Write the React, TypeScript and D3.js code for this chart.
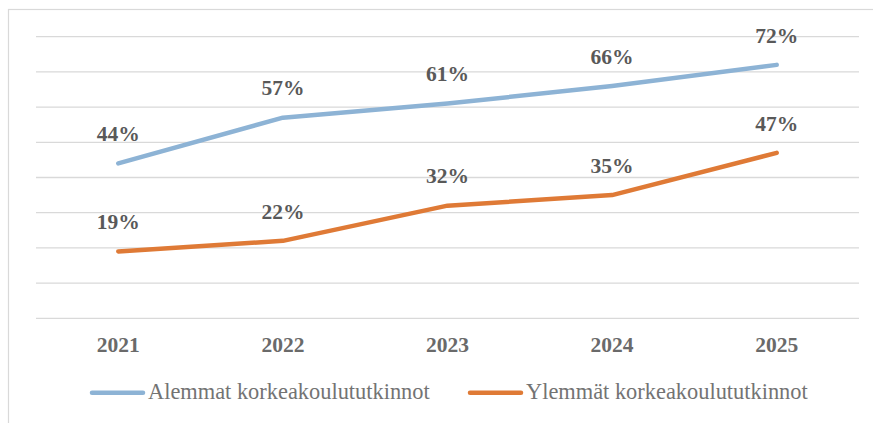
import React from "react";
import * as d3 from "d3";

const years = ["2021", "2022", "2023", "2024", "2025"];
const lowerDegrees = [44, 57, 61, 66, 72];
const higherDegrees = [19, 22, 32, 35, 47];
const seriesNames = ["Alemmat korkeakoulututkinnot", "Ylemmät korkeakoulututkinnot"];
const seriesColors = ["#8DB3D5", "#DF7A36"];
const yTicks = [0, 10, 20, 30, 40, 50, 60, 70, 80];

const W = 873;
const H = 423;
const FONT = "Liberation Serif, Tinos, Times New Roman, DejaVu Serif, serif";

export default function App() {
  const x = d3.scaleBand<string>().domain(years).range([36, 859]).padding(0);
  const y = d3.scaleLinear().domain([0, 80]).range([318.3, 36.7]);
  const cx = (d: string) => (x(d) as number) + x.bandwidth() / 2;
  const line = d3
    .line<number>()
    .x((_, i) => cx(years[i]))
    .y((v) => y(v));
  const series = [lowerDegrees, higherDegrees];
  const legendX = [92, 470];

  return (
    <svg
      width={W}
      height={H}
      style={{ position: "absolute", left: 0, top: 0, background: "#fff", fontFamily: FONT }}
    >
      <rect x={8.5} y={9.5} width={W + 20} height={H + 20} fill="#fff" stroke="#D9D9D9" strokeWidth={1.2} />
      {yTicks.map((t) => (
        <line key={t} x1={36} x2={859} y1={y(t)} y2={y(t)} stroke="#D9D9D9" strokeWidth={1.3} />
      ))}
      {series.map((vals, si) => (
        <path
          key={si}
          d={line(vals) || ""}
          fill="none"
          stroke={seriesColors[si]}
          strokeWidth={4.5}
          strokeLinecap="round"
          strokeLinejoin="round"
        />
      ))}
      {series.map((vals, si) =>
        vals.map((v, i) => (
          <text
            key={`${si}-${i}`}
            x={cx(years[i])}
            y={y(v) - 22.3}
            textAnchor="middle"
            style={{ fontFamily: FONT, fontWeight: "bold", fontSize: 21.5 }}
            fill="#595959"
          >
            {v}%
          </text>
        ))
      )}
      {years.map((yr) => (
        <text
          key={yr}
          x={cx(yr)}
          y={352.3}
          textAnchor="middle"
          style={{ fontFamily: FONT, fontWeight: "bold", fontSize: 21.5 }}
          fill="#6A6A6A"
        >
          {yr}
        </text>
      ))}
      {seriesNames.map((name, si) => (
        <g key={name}>
          <line
            x1={legendX[si]}
            x2={legendX[si] + 51}
            y1={392.7}
            y2={392.7}
            stroke={seriesColors[si]}
            strokeWidth={4.5}
            strokeLinecap="round"
          />
          <text x={legendX[si] + 56} y={399.3} style={{ fontFamily: FONT, fontSize: 22.4 }} fill="#737373">
            {name}
          </text>
        </g>
      ))}
    </svg>
  );
}
